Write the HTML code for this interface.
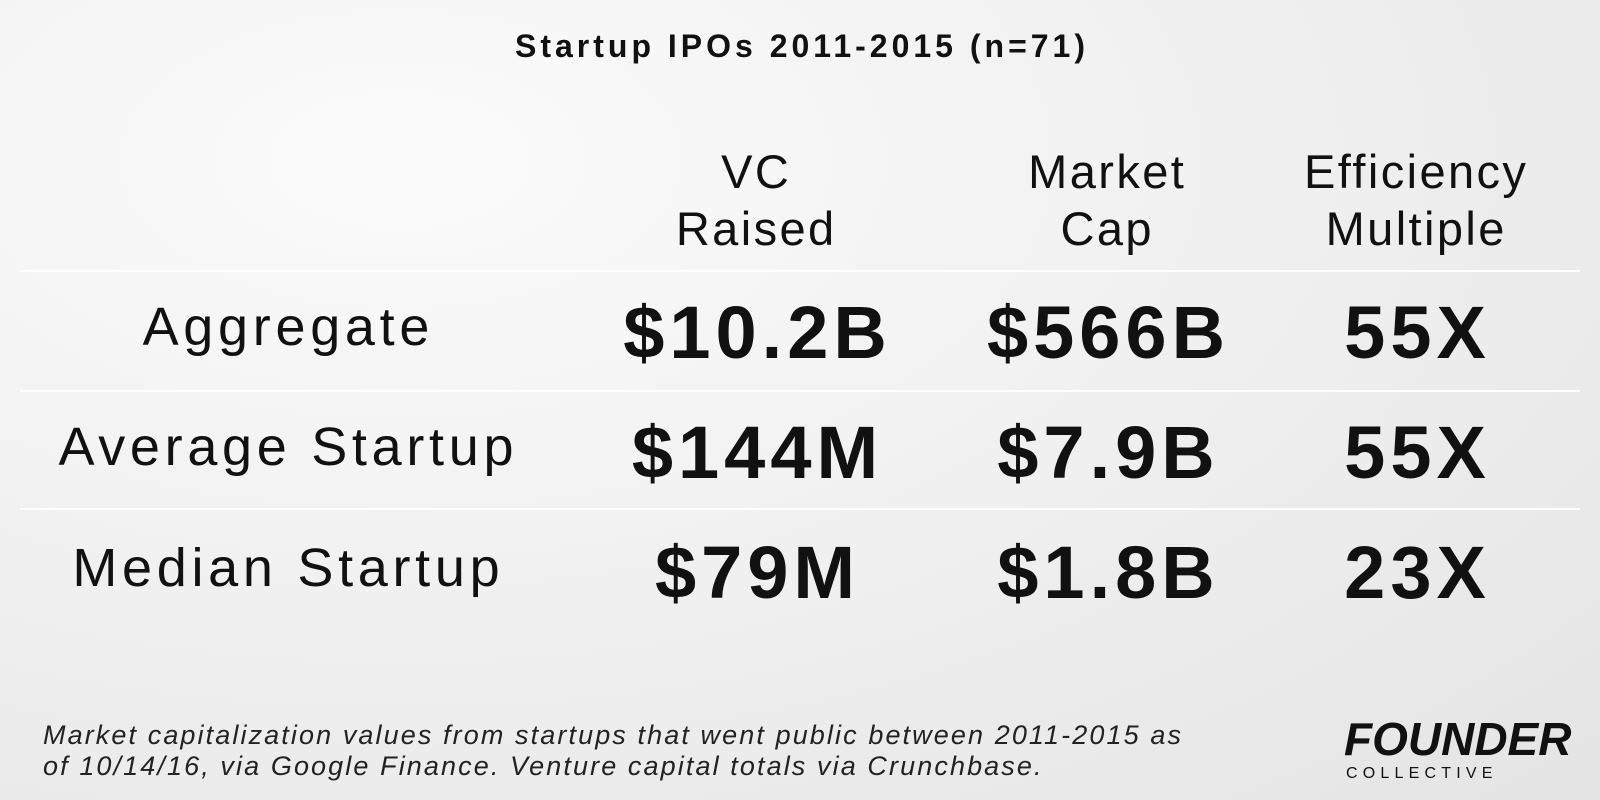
<!DOCTYPE html>
<html><head><style>
body{margin:0;width:1600px;height:800px;overflow:hidden;font-family:"Liberation Sans",sans-serif;color:#111;
background:radial-gradient(ellipse at 25% 20%,#fbfbfb 0%,#f0f0f0 50%,#e4e4e4 100%);position:relative}
.t{position:absolute;white-space:nowrap;transform:translate(-50%,-50%);line-height:1}
.title{left:800px;top:46px;font-size:32px;font-weight:bold;letter-spacing:4px;padding-left:4px}
.h{font-size:47px;text-align:center;line-height:57px;letter-spacing:2.4px;padding-left:2.4px}
.l{font-size:54px;letter-spacing:4.7px;padding-left:4.7px}
.v{font-size:74px;font-weight:bold;letter-spacing:5px;padding-left:5px}
.line{position:absolute;left:20px;width:1560px;height:2px;background:#fff}
.foot{position:absolute;left:43px;top:720px;font-size:27px;font-style:italic;line-height:31px;color:#222;letter-spacing:2.1px}
</style></head><body>
<div class="t title">Startup IPOs 2011-2015 (n=71)</div>
<div class="t h" style="left:755px;top:200px">VC<br>Raised</div>
<div class="t h" style="left:1106px;top:200px">Market<br>Cap</div>
<div class="t h" style="left:1415px;top:200px">Efficiency<br>Multiple</div>
<div class="line" style="top:270px"></div>
<div class="line" style="top:390px"></div>
<div class="line" style="top:508px"></div>
<div class="t l" style="left:286px;top:327px">Aggregate</div>
<div class="t l" style="left:286px;top:447px">Average Startup</div>
<div class="t l" style="left:286px;top:568px">Median Startup</div>
<div class="t v" style="left:755px;top:333px">$10.2B</div>
<div class="t v" style="left:1106px;top:333px">$566B</div>
<div class="t v" style="left:1415px;top:333px">55X</div>
<div class="t v" style="left:755px;top:453px">$144M</div>
<div class="t v" style="left:1106px;top:453px">$7.9B</div>
<div class="t v" style="left:1415px;top:453px">55X</div>
<div class="t v" style="left:755px;top:573px">$79M</div>
<div class="t v" style="left:1106px;top:573px">$1.8B</div>
<div class="t v" style="left:1415px;top:573px">23X</div>
<div class="foot">Market capitalization values from startups that went public between 2011-2015 as<br>of 10/14/16, via Google Finance. Venture capital totals via Crunchbase.</div>
<div style="position:absolute;left:1344px;top:716px;font-size:46px;font-weight:bold;font-style:italic;line-height:1">FOUNDER</div>
<div style="position:absolute;left:1346px;top:766px;font-size:16px;letter-spacing:5.2px;line-height:1">COLLECTIVE</div>
</body></html>
